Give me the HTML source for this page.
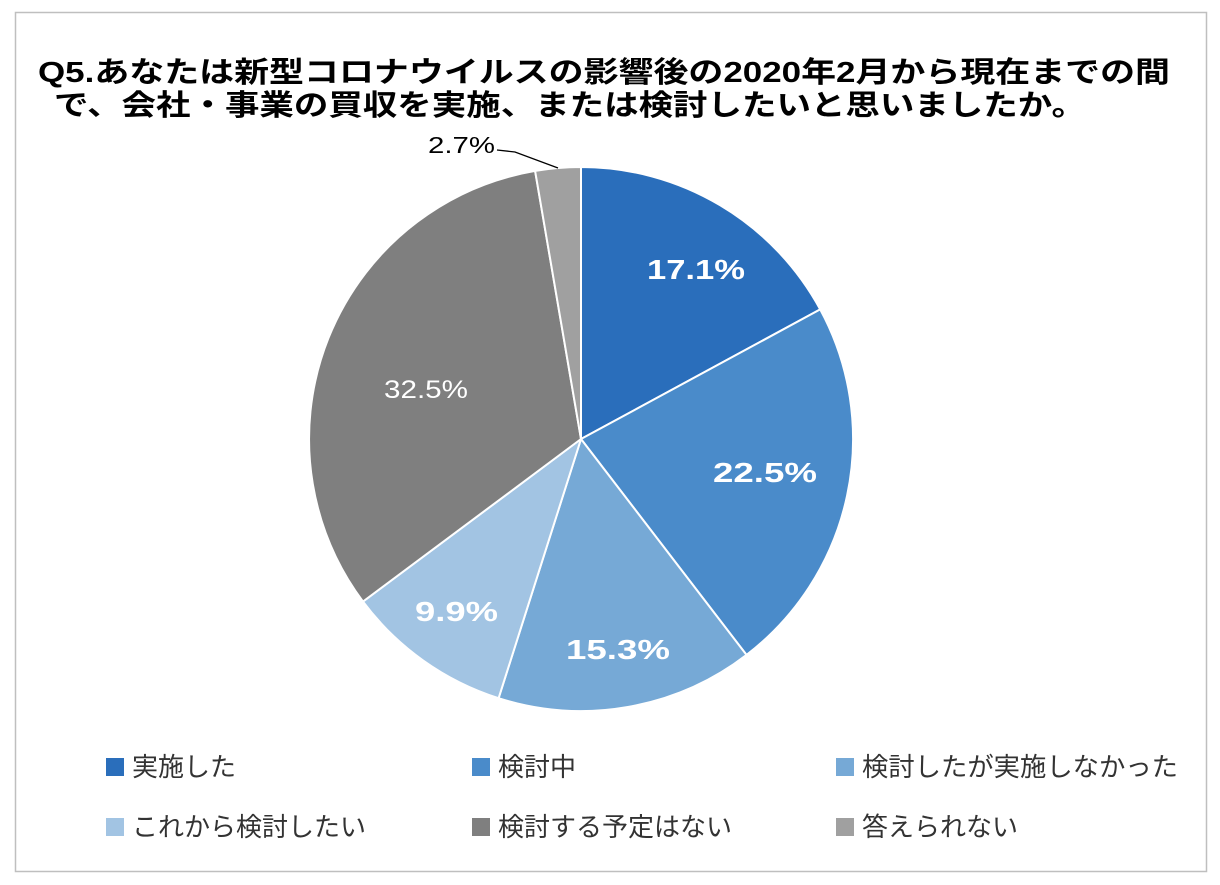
<!DOCTYPE html>
<html><head><meta charset="utf-8"><style>
body{margin:0;background:#fff;}
svg text{font-family:"Liberation Sans","Noto Sans CJK JP",sans-serif;}
</style></head><body>
<svg width="1220" height="880" xmlns="http://www.w3.org/2000/svg">
<rect x="0" y="0" width="1220" height="880" fill="#fff"/>
<rect x="15.5" y="12.5" width="1191" height="859" fill="none" stroke="#bfbfbf" stroke-width="1.5"/>
<text x="38" y="82" font-size="29" font-weight="bold" fill="#000" textLength="1132" lengthAdjust="spacingAndGlyphs">Q5.あなたは新型コロナウイルスの影響後の2020年2月から現在までの間</text>
<text x="54" y="115" font-size="29" font-weight="bold" fill="#000" textLength="1032" lengthAdjust="spacingAndGlyphs">で、会社・事業の買収を実施、または検討したいと思いましたか。</text>
<g stroke="#fff" stroke-width="2" stroke-linejoin="round">
<path d="M581,439 L581,167 A272,272 0 0 1 820.2,309.4 Z" fill="#2a6ebb"/>
<path d="M581,439 L820.2,309.4 A272,272 0 0 1 746.5,654.9 Z" fill="#4a8bca"/>
<path d="M581,439 L746.5,654.9 A272,272 0 0 1 498.6,698.2 Z" fill="#76a9d6"/>
<path d="M581,439 L498.6,698.2 A272,272 0 0 1 363.0,601.6 Z" fill="#a2c4e3"/>
<path d="M581,439 L363.0,601.6 A272,272 0 0 1 535.1,170.9 Z" fill="#7f7f7f"/>
<path d="M581,439 L535.1,170.9 A272,272 0 0 1 581,167 Z" fill="#a0a0a0"/>
</g>
<g font-size="28" font-weight="bold" fill="#fff" lengthAdjust="spacingAndGlyphs">
<text x="647" y="279" textLength="98" lengthAdjust="spacingAndGlyphs">17.1%</text>
<text x="713" y="482" textLength="104" lengthAdjust="spacingAndGlyphs">22.5%</text>
<text x="566" y="659" textLength="104" lengthAdjust="spacingAndGlyphs">15.3%</text>
<text x="415" y="621" textLength="83" lengthAdjust="spacingAndGlyphs">9.9%</text>
<text x="384" y="398" font-weight="normal" font-size="25" textLength="84" lengthAdjust="spacingAndGlyphs">32.5%</text>
</g>
<text x="428" y="153" font-size="23" fill="#000" textLength="67" lengthAdjust="spacingAndGlyphs">2.7%</text>
<polyline points="497,150 515,152 558,168" fill="none" stroke="#000" stroke-width="1.3"/>
<g font-size="26" fill="#333">
<rect x="106" y="758" width="18" height="18" fill="#2a6ebb"/><text x="132" y="776">実施した</text>
<rect x="472" y="758" width="18" height="18" fill="#4a8bca"/><text x="498" y="776">検討中</text>
<rect x="836" y="758" width="18" height="18" fill="#76a9d6"/><text x="862" y="776" textLength="316" lengthAdjust="spacingAndGlyphs">検討したが実施しなかった</text>
<rect x="106" y="818" width="18" height="18" fill="#a2c4e3"/><text x="132" y="836">これから検討したい</text>
<rect x="472" y="818" width="18" height="18" fill="#7f7f7f"/><text x="498" y="836">検討する予定はない</text>
<rect x="836" y="818" width="18" height="18" fill="#a0a0a0"/><text x="862" y="836">答えられない</text>
</g>
</svg>
</body></html>
